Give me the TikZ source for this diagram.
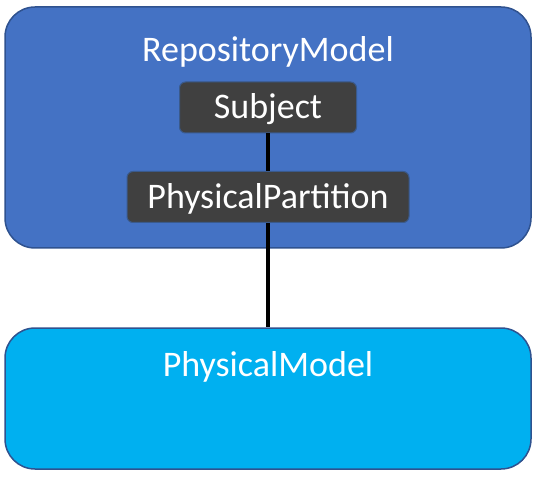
\documentclass[tikz,border=0pt]{standalone}
\usepackage{fontspec}
\setmainfont{Carlito}
\usetikzlibrary{positioning,calc}
\definecolor{RepoBlue}{HTML}{4472C4}
\definecolor{RepoBorder}{HTML}{2F528F}
\definecolor{PhysCyan}{HTML}{00B0F0}
\definecolor{InnerGray}{HTML}{404040}
\definecolor{InnerBorder}{HTML}{3A5A8C}

\begin{document}
\begin{tikzpicture}[x=1pt,y=-1pt,
 model/.style={draw=RepoBorder,line width=1.5pt,rounded corners=30pt,
 minimum width=526pt,inner sep=0pt},
 title/.style={text=white,font=\fontsize{36}{42}\selectfont},
 entity/.style={draw=InnerBorder,fill=InnerGray,line width=1pt,rounded corners=6pt,
 minimum height=51pt,text depth=2pt,text=white,font=\fontsize{36}{42}\selectfont,inner xsep=0pt},
 link/.style={line width=3.5pt,draw=black}]
\useasboundingbox (0,0) rectangle (538,478);
\node[model,fill=RepoBlue,minimum height=241pt] (repo) at (268,127.5) {};
\node[model,fill=PhysCyan,minimum height=141pt] (phys) at (268,398.5) {};
\node[title] (repoTitle) at (268,52) {RepositoryModel};
\node[title] (physTitle) at (268,367) {PhysicalModel};
\node[entity,minimum width=177pt] (subject) at (268,107.5) {Subject};
\node[entity,minimum width=282pt] (partition) at (268,197) {PhysicalPartition};
\draw[link] (subject) -- (partition);
\draw[link] (partition) -- (phys);
\end{tikzpicture}
\end{document}
